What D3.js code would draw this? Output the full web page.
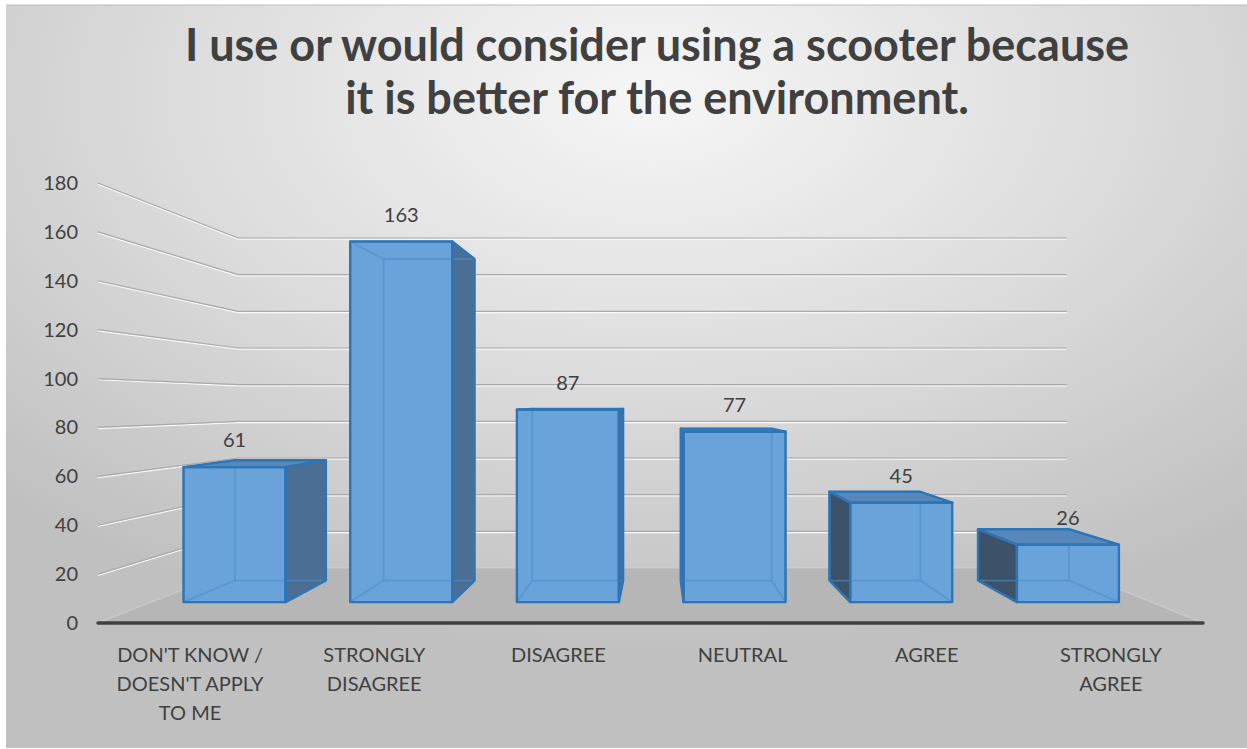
<!DOCTYPE html>
<html>
<head>
<meta charset="utf-8">
<script src="https://cdn.jsdelivr.net/npm/d3@7"></script>
<style>
  body { margin: 0; background: #fff; }
  svg { display: block; }
</style>
</head>
<body>
<div id="chart"></div>
<script>
// Data
var categories = ["DON'T KNOW /\nDOESN'T APPLY\nTO ME", "STRONGLY\nDISAGREE", "DISAGREE", "NEUTRAL", "AGREE", "STRONGLY\nAGREE"];
var values = [61, 163, 87, 77, 45, 26];
var yTicks = [0, 20, 40, 60, 80, 100, 120, 140, 160, 180];
var titleLines = ["I use or would consider using a scooter because", "it is better for the environment."];

var W = 1247, H = 749,
    font_family = "Lato, 'Open Sans', sans-serif";

// front plane scales
var xScale = d3.scaleBand()
      .domain(categories)
      .range([98, 1203])
      .paddingInner(0.388)
      .paddingOuter(0.194),
    yScale = d3.scaleLinear()
      .domain([0, 180])
      .range([623, 183]);

// perspective: points move toward vanishing point as depth t grows
var VX = 658, VY = 403,
    tWall = 0.25, tFront = 0.095, tBack = 0.193;

function proj(x, y, t) {
  return [x + (VX - x) * t, y + (VY - y) * t];
}
function poly(pts) {
  return pts.map(function(p) { return p.join(","); }).join(" ");
}

var svg = d3.select("#chart").append("svg")
  .attr("width", W)
  .attr("height", H);

// Background
var defs = svg.append("defs");
var grad = defs.append("radialGradient")
  .attr("id", "bg")
  .attr("cx", "52%").attr("cy", "12%")
  .attr("r", "75%")
  .attr("fx", "52%").attr("fy", "12%");
grad.append("stop").attr("offset", "0%").attr("stop-color", "#f6f6f6");
grad.append("stop").attr("offset", "55%").attr("stop-color", "#dadada");
grad.append("stop").attr("offset", "100%").attr("stop-color", "#c0c0c0");

svg.append("rect")
  .attr("x", 6).attr("y", 5)
  .attr("width", W - 6).attr("height", H - 6)
  .attr("fill", "url(#bg)");
svg.append("line")
  .attr("x1", 6).attr("x2", W).attr("y1", 5).attr("y2", 5)
  .attr("stroke", "#bdbdbd").attr("stroke-width", 1);

// Title
svg.append("g").selectAll("text")
  .data(titleLines)
  .enter().append("text")
    .attr("x", 657)
    .attr("y", function(d, i) { return 61 + i * 53; })
    .attr("text-anchor", "middle")
    .attr("font-family", font_family)
    .attr("font-weight", "bold")
    .attr("font-size", "45px")
    .attr("fill", "#404040")
    .text(function(d) { return d; });

// Floor
var x0 = xScale.range()[0], x1 = xScale.range()[1], yb = yScale(0);
svg.append("polygon")
  .attr("points", poly([proj(x0, yb, 0), proj(x1, yb, 0), proj(x1, yb, tWall), proj(x0, yb, tWall)]))
  .attr("fill", "#b6b6b6")
  .attr("stroke", "#d0d0d0")
  .attr("stroke-width", 0.8);

// Gridlines: side wall + back wall
var grid = svg.append("g");
yTicks.filter(function(d) { return d > 0; }).forEach(function(v) {
  var yv = yScale(v),
      a = proj(x0, yv, 0), b = proj(x0, yv, tWall), c = proj(x1, yv, tWall);
  grid.append("polyline")
    .attr("points", poly([a, b, c]))
    .attr("fill", "none")
    .attr("stroke", "#fafafa")
    .attr("stroke-width", 1.2)
    .attr("transform", "translate(0,1.2)");
  grid.append("polyline")
    .attr("points", poly([a, b, c]))
    .attr("fill", "none")
    .attr("stroke", "#a9a9a9")
    .attr("stroke-width", 1.2);
});

// Front axis line
svg.append("line")
  .attr("x1", x0).attr("x2", x1)
  .attr("y1", yb).attr("y2", yb)
  .attr("stroke", "#404040")
  .attr("stroke-width", 3.5)
  .attr("stroke-linecap", "round");

// Y axis labels
svg.append("g").selectAll("text")
  .data(yTicks)
  .enter().append("text")
    .attr("x", 78)
    .attr("y", function(d) { return yScale(d); })
    .attr("dy", "0.35em")
    .attr("text-anchor", "end")
    .attr("font-family", font_family)
    .attr("font-size", "20px")
    .attr("fill", "#404040")
    .text(function(d) { return d; });

// X axis labels
svg.append("g").selectAll("text")
  .data(categories)
  .enter().append("text")
    .attr("font-family", font_family)
    .attr("font-size", "20px")
    .attr("fill", "#404040")
    .attr("text-anchor", "middle")
    .each(function(d) {
      var cx = xScale(d) + xScale.bandwidth() / 2;
      d3.select(this).selectAll("tspan")
        .data(d.split("\n"))
        .enter().append("tspan")
          .attr("x", cx)
          .attr("y", function(l, i) { return 662 + i * 29; })
          .text(function(l) { return l; });
    });

// Bars
var bars = svg.append("g");
categories.forEach(function(cat, i) {
  var X0 = xScale(cat), X1 = X0 + xScale.bandwidth(),
      Yt = yScale(values[i]), Yb = yScale(0);

  var c = {
    flb: proj(X0, Yb, tFront), frb: proj(X1, Yb, tFront),
    flt: proj(X0, Yt, tFront), frt: proj(X1, Yt, tFront),
    blb: proj(X0, Yb, tBack),  brb: proj(X1, Yb, tBack),
    blt: proj(X0, Yt, tBack),  brt: proj(X1, Yt, tBack)
  };

  var faces = [];
  if (X1 < VX) faces.push({pts: [c.frt, c.brt, c.brb, c.frb], fill: "#4b6f94"});
  if (X0 > VX) faces.push({pts: [c.flt, c.blt, c.blb, c.flb], fill: "#3c5269"});
  if (Yt > VY) faces.push({pts: [c.flt, c.frt, c.brt, c.blt], fill: "#5887ba"});
  faces.push({pts: [c.flt, c.frt, c.frb, c.flb], fill: "#6aa3d9"});

  var g = bars.append("g");

  faces.forEach(function(f) {
    g.append("polygon")
      .attr("points", poly(f.pts))
      .attr("fill", f.fill);
  });

  // edges seen through the faces
  var edges = [
    [c.flb, c.frb], [c.flt, c.frt], [c.blb, c.brb], [c.blt, c.brt],
    [c.flb, c.flt], [c.frb, c.frt], [c.blb, c.blt], [c.brb, c.brt],
    [c.flb, c.blb], [c.frb, c.brb], [c.flt, c.blt], [c.frt, c.brt]
  ];
  edges.forEach(function(e) {
    g.append("line")
      .attr("x1", e[0][0]).attr("y1", e[0][1])
      .attr("x2", e[1][0]).attr("y2", e[1][1])
      .attr("stroke", "#4a8dcc")
      .attr("stroke-opacity", 0.6)
      .attr("stroke-width", 1.8);
  });

  faces.forEach(function(f) {
    g.append("polygon")
      .attr("points", poly(f.pts))
      .attr("fill", "none")
      .attr("stroke", "#2e75b6")
      .attr("stroke-width", 2.4)
      .attr("stroke-linejoin", "round");
  });

  // value label
  var top = proj((X0 + X1) / 2, Yt, tFront);
  g.append("text")
    .attr("x", top[0])
    .attr("y", top[1] - 27)
    .attr("dy", "0.35em")
    .attr("text-anchor", "middle")
    .attr("font-family", font_family)
    .attr("font-size", "20px")
    .attr("fill", "#404040")
    .text(values[i]);
});
</script>
</body>
</html>
